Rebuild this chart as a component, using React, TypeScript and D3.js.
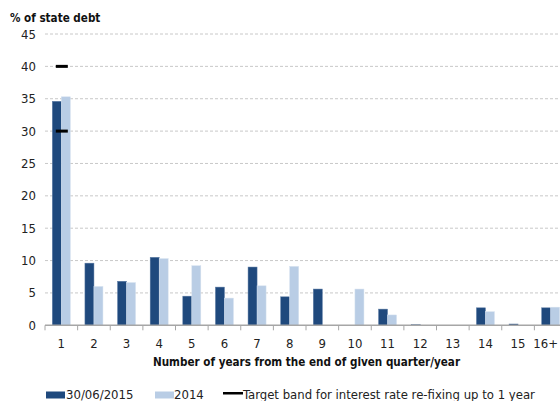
import React from "react";
import * as d3 from "d3";

const categories = ["1", "2", "3", "4", "5", "6", "7", "8", "9", "10", "11", "12", "13", "14", "15", "16+"];
const series2015 = [34.6, 9.6, 6.8, 10.5, 4.5, 5.9, 9.0, 4.4, 5.6, 0, 2.5, 0.1, 0, 2.7, 0.2, 2.7];
const series2014 = [35.3, 6.0, 6.6, 10.3, 9.2, 4.2, 6.1, 9.1, 0, 5.6, 1.6, 0, 0, 2.1, 0, 2.8];
const targetBand = [30, 40];
const yTicks = [0, 5, 10, 15, 20, 25, 30, 35, 40, 45];
const seriesNames = ["30/06/2015", "2014"];
const targetLabel = "Target band for interest rate re-fixing up to 1 year";
const yTitle = "% of state debt";
const xTitle = "Number of years from the end of given quarter/year";

const DARK = "#1f497d";
const LIGHT = "#b9cde5";
const FONT = "'DejaVu Sans Condensed', 'DejaVu Sans', sans-serif";

export default function App() {
  const W = 560, H = 401;
  const x0 = 45, x1 = 567;
  const y = d3.scaleLinear().domain([0, 45]).range([325.3, 34]);
  const x = d3.scaleBand<string>().domain(categories).range([x0, x1]).paddingInner(0).paddingOuter(0);
  const bw = x.bandwidth();
  const barW = 9;
  const bandEdges = categories.map((c) => x(c)!).concat([x1]);

  return (
    <svg width={W} height={H} style={{ position: "absolute", left: 0, top: 0, background: "#fff" }} fontFamily={FONT}>
      {yTicks.filter((t) => t > 0).map((t) => (
        <line key={t} x1={x0} x2={W} y1={y(t)} y2={y(t)} stroke="#c8c8c8" strokeWidth={1} strokeDasharray="3,2" />
      ))}
      {yTicks.map((t) => (
        <text key={t} x={36} y={y(t) + 4.5} textAnchor="end" fontSize={13} fill="#222">{t}</text>
      ))}
      <text x={10} y={22} fontSize={11.6} fontWeight="bold" fill="#111">{yTitle}</text>
      {categories.map((c, i) => {
        const cx = x(c)! + bw / 2;
        return (
          <g key={c}>
            {series2015[i] > 0 && (
              <rect x={cx - barW} y={y(series2015[i])} width={barW} height={y(0) - y(series2015[i])} fill={DARK} stroke="#5a7aa3" strokeWidth={0.5} />
            )}
            {series2014[i] > 0 && (
              <rect x={cx} y={y(series2014[i])} width={barW} height={y(0) - y(series2014[i])} fill={LIGHT} stroke="#d5e1ef" strokeWidth={0.5} />
            )}
          </g>
        );
      })}
      {targetBand.map((v) => (
        <rect key={v} x={x(categories[0])! + bw / 2 - 5.5} y={y(v) - 1.5} width={12} height={3} fill="#000" />
      ))}
      <line x1={x0} x2={W} y1={y(0)} y2={y(0)} stroke="#a6a6a6" strokeWidth={1.5} />
      {bandEdges.map((e, i) => (
        <line key={i} x1={e} x2={e} y1={y(0)} y2={y(0) + 5} stroke="#a6a6a6" strokeWidth={1} />
      ))}
      {categories.map((c, i) =>
        i === categories.length - 1 ? (
          <text key={c} x={558} y={347.5} textAnchor="end" fontSize={13} fill="#222">{c}</text>
        ) : (
          <text key={c} x={x(c)! + bw / 2} y={347.5} textAnchor="middle" fontSize={13} fill="#222">{c}</text>
        )
      )}
      <text x={(152 + 461) / 2} y={366} textAnchor="middle" fontSize={11.6} fontWeight="bold" fill="#111">{xTitle}</text>
      <rect x={46} y={391.5} width={19} height={7} fill={DARK} />
      <text x={66} y={399} fontSize={13} fill="#222">{seriesNames[0]}</text>
      <rect x={155} y={391.5} width={19} height={7} fill={LIGHT} />
      <text x={174} y={399} fontSize={13} fill="#222">{seriesNames[1]}</text>
      <rect x={223} y={392} width={20} height={2.5} fill="#000" />
      <text x={243} y={399} fontSize={13} fill="#222">{targetLabel}</text>
    </svg>
  );
}
